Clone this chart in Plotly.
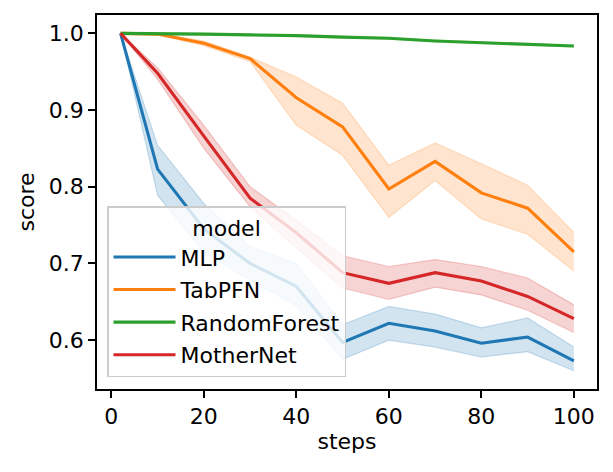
import plotly.graph_objects as go

steps = [2, 10, 20, 30, 40, 50, 60, 70, 80, 90, 100]

models = ["MLP", "TabPFN", "RandomForest", "MotherNet"]
colors = ["31,119,180", "255,127,14", "44,160,44", "214,39,40"]

mlp = [1.0, 0.823, 0.745, 0.700, 0.670, 0.597, 0.622, 0.612, 0.596, 0.604, 0.573]
mlp_lo = [1.0, 0.789, 0.715, 0.678, 0.645, 0.575, 0.600, 0.591, 0.578, 0.585, 0.560]
mlp_hi = [1.0, 0.854, 0.778, 0.722, 0.700, 0.620, 0.644, 0.634, 0.616, 0.629, 0.591]

tabpfn = [1.0, 0.999, 0.987, 0.967, 0.916, 0.878, 0.797, 0.833, 0.792, 0.772, 0.715]
tabpfn_lo = [1.0, 0.998, 0.984, 0.963, 0.880, 0.841, 0.760, 0.808, 0.758, 0.738, 0.690]
tabpfn_hi = [1.0, 1.0, 0.990, 0.969, 0.943, 0.909, 0.828, 0.857, 0.830, 0.802, 0.740]

rf = [1.0, 1.0, 0.999, 0.998, 0.997, 0.995, 0.9935, 0.990, 0.988, 0.9857, 0.9834]
rf_lo = [1.0, 0.9995, 0.998, 0.997, 0.996, 0.994, 0.9925, 0.989, 0.987, 0.9847, 0.9824]
rf_hi = [1.0, 1.0, 1.0, 0.999, 0.998, 0.996, 0.9945, 0.991, 0.989, 0.9867, 0.9844]

mother = [1.0, 0.948, 0.866, 0.785, 0.740, 0.688, 0.674, 0.688, 0.677, 0.657, 0.628]
mother_lo = [1.0, 0.940, 0.850, 0.774, 0.720, 0.668, 0.653, 0.669, 0.659, 0.639, 0.610]
mother_hi = [1.0, 0.955, 0.880, 0.800, 0.756, 0.710, 0.696, 0.705, 0.696, 0.681, 0.646]

series = [(mlp, mlp_lo, mlp_hi), (tabpfn, tabpfn_lo, tabpfn_hi),
          (rf, rf_lo, rf_hi), (mother, mother_lo, mother_hi)]

FS = 22
fig = go.Figure()
for name, col, (mid, lo, hi) in zip(models, colors, series):
    fig.add_trace(go.Scatter(x=steps, y=hi, mode="lines",
                             line=dict(color=f"rgba({col},0.22)", width=1.2),
                             showlegend=False, hoverinfo="skip", legendgroup=name))
    fig.add_trace(go.Scatter(x=steps, y=lo, mode="lines", fill="tonexty",
                             fillcolor=f"rgba({col},0.2)",
                             line=dict(color=f"rgba({col},0.22)", width=1.2),
                             showlegend=False, hoverinfo="skip", legendgroup=name))
for name, col, (mid, lo, hi) in zip(models, colors, series):
    fig.add_trace(go.Scatter(x=steps, y=mid, mode="lines", name=name,
                             line=dict(color=f"rgb({col})", width=3.1),
                             legendgroup=name))

axis_common = dict(showgrid=False, zeroline=False, showline=True, mirror=True,
                   linecolor="black", linewidth=1.7, ticks="outside",
                   ticklen=7, tickwidth=1.7, tickcolor="black", automargin=False,
                   tickfont=dict(size=FS, color="black"))

# page body has an 8px margin, so the figure is 8px smaller and margins shifted
fig.update_layout(
    width=605, height=464,
    margin=dict(l=89, r=16, t=7, b=83),
    paper_bgcolor="white", plot_bgcolor="white",
    font=dict(family="DejaVu Sans", size=FS, color="black"),
    xaxis=dict(range=[-3.1, 105], tickvals=[0, 20, 40, 60, 80, 100],
               title=dict(text="steps", font=dict(size=FS), standoff=0), **axis_common),
    yaxis=dict(range=[0.5363, 1.0239], tickvals=[0.6, 0.7, 0.8, 0.9, 1.0],
               tickformat=".1f",
               title=dict(text="score", font=dict(size=FS), standoff=8), **axis_common),
    legend=dict(x=0.02, y=0.032, xanchor="left", yanchor="bottom",
                bgcolor="rgba(255,255,255,0.8)", bordercolor="#cccccc", borderwidth=1.5,
                font=dict(size=FS), tracegroupgap=1, traceorder="grouped",
                itemwidth=62,
                title=dict(text="model", side="top center", font=dict(size=FS))),
)

fig.write_html("out.html")
